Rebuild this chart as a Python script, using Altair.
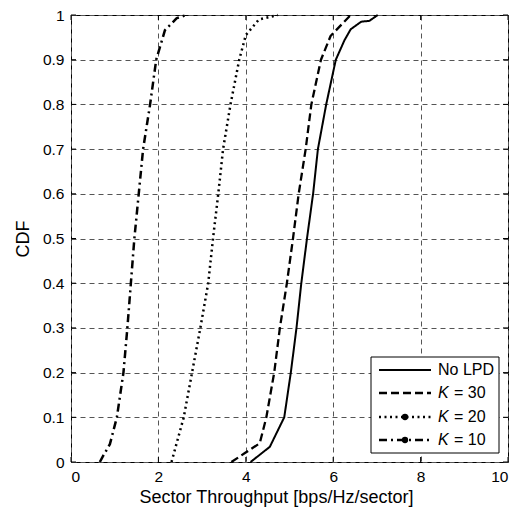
import altair as alt
import pandas as pd

# ---------------- data ----------------
no_lpd_x = [4.11, 4.55, 4.88, 5.03, 5.16, 5.27, 5.40, 5.54, 5.65, 5.84, 6.06, 6.26, 6.40, 6.64, 6.83, 7.02]
no_lpd_y = [0.0, 0.034, 0.1, 0.2, 0.3, 0.4, 0.5, 0.6, 0.7, 0.8, 0.9, 0.944, 0.968, 0.985, 0.987, 1.0]

k30_x = [3.67, 3.98, 4.32, 4.47, 4.65, 4.78, 4.94, 5.08, 5.21, 5.37, 5.50, 5.72, 5.94, 6.40]
k30_y = [0.0, 0.02, 0.042, 0.1, 0.2, 0.3, 0.4, 0.5, 0.6, 0.7, 0.8, 0.9, 0.953, 1.0]

k20_x = [2.30, 2.58, 2.77, 2.96, 3.14, 3.25, 3.37, 3.48, 3.65, 3.85, 4.00, 4.30, 4.73]
k20_y = [0.0, 0.1, 0.2, 0.3, 0.4, 0.5, 0.6, 0.7, 0.8, 0.9, 0.955, 0.99, 1.0]

k10_x = [0.66, 0.72, 0.89, 1.05, 1.20, 1.29, 1.37, 1.45, 1.55, 1.65, 1.81, 1.95, 2.15, 2.42, 2.64]
k10_y = [0.0, 0.011, 0.04, 0.1, 0.2, 0.3, 0.4, 0.5, 0.6, 0.7, 0.8, 0.9, 0.966, 0.993, 1.0]

series_names = ["No LPD", "K = 30", "K = 20", "K = 10"]
x_ticks = [0, 2, 4, 6, 8, 10]
y_ticks = [0, 0.1, 0.2, 0.3, 0.4, 0.5, 0.6, 0.7, 0.8, 0.9, 1]

x_title = "Sector Throughput [bps/Hz/sector]"
y_title = "CDF"

# ---------------- styles / layout ----------------
FONT = "Liberation Sans"
W, H = 437, 447
styles = [
    dict(dash=[1, 0], width=2.0, marker=False),
    dict(dash=[8, 4], width=2.3, marker=False),
    dict(dash=[2, 3.5], width=2.5, marker=True),
    dict(dash=[8, 4, 2, 4], width=2.5, marker=True),
]
series_xy = [(no_lpd_x, no_lpd_y), (k30_x, k30_y), (k20_x, k20_y), (k10_x, k10_y)]

xscale = alt.Scale(domain=[0, 10], nice=False, zero=False)
yscale = alt.Scale(domain=[0, 1], nice=False, zero=False)

layers = []

# base layer with axes and grid
axis_df = pd.DataFrame({"x": [0, 10], "y": [0, 1]})
base = alt.Chart(axis_df).mark_point(opacity=0).encode(
    x=alt.X("x:Q", scale=xscale, title=x_title,
            axis=alt.Axis(values=x_ticks, format="d", grid=True, ticks=False, domain=False,
                          labelPadding=7, titlePadding=4, titleX=205, titleAlign="center")),
    y=alt.Y("y:Q", scale=yscale, title=y_title,
            axis=alt.Axis(values=y_ticks, format="~g", grid=True, ticks=False, domain=False,
                          labelPadding=7, titlePadding=10)),
)
layers.append(base)

# curves
for name, (xs, ys), st in zip(series_names, series_xy, styles):
    df = pd.DataFrame({"x": xs, "y": ys, "i": range(len(xs))})
    layers.append(
        alt.Chart(df).mark_line(color="black", strokeWidth=st["width"], strokeDash=st["dash"],
                                strokeCap="butt", strokeJoin="round").encode(
            x=alt.X("x:Q", scale=xscale), y=alt.Y("y:Q", scale=yscale), order="i:Q")
    )

# inward ticks on all four sides
xt = pd.DataFrame({"v": x_ticks})
yt = pd.DataFrame({"v": y_ticks})
TL = 5
layers.append(alt.Chart(xt).mark_rule(color="black", strokeWidth=1).encode(
    x=alt.X("v:Q", scale=xscale), y=alt.value(H), y2=alt.value(H - TL)))
layers.append(alt.Chart(xt).mark_rule(color="black", strokeWidth=1).encode(
    x=alt.X("v:Q", scale=xscale), y=alt.value(0), y2=alt.value(TL)))
layers.append(alt.Chart(yt).mark_rule(color="black", strokeWidth=1).encode(
    y=alt.Y("v:Q", scale=yscale), x=alt.value(0), x2=alt.value(TL)))
layers.append(alt.Chart(yt).mark_rule(color="black", strokeWidth=1).encode(
    y=alt.Y("v:Q", scale=yscale), x=alt.value(W), x2=alt.value(W - TL)))

# legend box
one = pd.DataFrame({"a": [0]})
LX0, LX1, LY0, LY1 = 300, 428, 342, 438
layers.append(alt.Chart(one).mark_rect(fill="white", stroke="black", strokeWidth=1).encode(
    x=alt.value(LX0), x2=alt.value(LX1), y=alt.value(LY0), y2=alt.value(LY1)))
row_y = [355, 378, 402, 425]
SX0, SX1, DOT_X, TX = 308, 360, 334, 367
LFS = 16
for name, st, ry in zip(series_names, styles, row_y):
    layers.append(alt.Chart(one).mark_rule(color="black", strokeWidth=st["width"],
                                           strokeDash=st["dash"], strokeCap="butt").encode(
        x=alt.value(SX0), x2=alt.value(SX1), y=alt.value(ry)))
    if st["marker"]:
        layers.append(alt.Chart(one).mark_circle(color="black", size=40, opacity=1).encode(
            x=alt.value(DOT_X), y=alt.value(ry)))
    if name.startswith("K"):
        layers.append(alt.Chart(one).mark_text(align="left", baseline="middle", font=FONT,
                                               fontSize=LFS, fontStyle="italic", color="black").encode(
            x=alt.value(TX), y=alt.value(ry), text=alt.value("K")))
        layers.append(alt.Chart(one).mark_text(align="left", baseline="middle", font=FONT,
                                               fontSize=LFS, color="black").encode(
            x=alt.value(TX + 16), y=alt.value(ry), text=alt.value(name[2:])))
    else:
        layers.append(alt.Chart(one).mark_text(align="left", baseline="middle", font=FONT,
                                               fontSize=LFS, color="black").encode(
            x=alt.value(TX), y=alt.value(ry), text=alt.value(name)))

chart = alt.layer(*layers).properties(
    width=W, height=H,
    autosize=alt.AutoSizeParams(type="none"),
    padding={"left": 71, "top": 15, "right": 15, "bottom": 49},
    background="white",
).configure_view(stroke="black", strokeWidth=1).configure_axis(
    labelFont=FONT, titleFont=FONT, labelFontSize=15.5, titleFontSize=18,
    titleFontWeight="normal", labelColor="black", titleColor="black",
    gridColor="#555555", gridDash=[5, 4], gridWidth=1, gridOpacity=1,
)

chart.save("out.html", embed_options={"renderer": "svg", "actions": False})
